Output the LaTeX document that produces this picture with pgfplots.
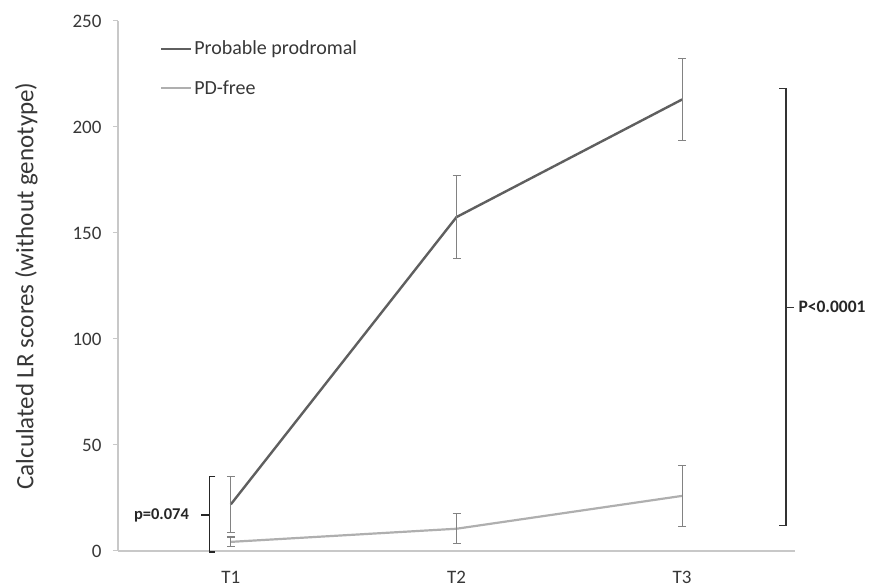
\documentclass[border=0pt]{standalone}
\usepackage{pgfplots}
\pgfplotsset{compat=1.18}
\usepackage{fontspec}
\setmainfont{Carlito}

\definecolor{prodcol}{RGB}{95,95,95}
\definecolor{freecol}{RGB}{175,175,175}
\definecolor{axcol}{RGB}{200,200,200}
\definecolor{errcol}{RGB}{130,130,130}
\definecolor{txtcol}{RGB}{55,55,55}

\begin{document}
\begin{tikzpicture}[x=1pt,y=1pt]
\begin{axis}[
  at={(0pt,0pt)}, anchor=south west,
  scale only axis, width=677pt, height=530pt,
  xmin=0.5, xmax=3.5, ymin=0, ymax=250,
  xtick={1,2,3}, xticklabels={T1,T2,T3},
  ytick={0,50,100,150,200,250},
  axis x line=bottom, axis y line=left,
  axis line style={axcol, line width=1.2pt, -},
  x axis line style={-}, y axis line style={-},
  major tick length=5pt,
  xtick style={draw=none},
  ytick style={axcol, line width=1pt},
  tick align=outside,
  /pgf/number format/assume math mode=true,
  ticklabel style={font=\fontsize{19}{21}\selectfont, text=txtcol},
  yticklabel style={xshift=-8pt},
  xticklabel style={yshift=-12pt},
  ylabel={Calculated LR scores (without genotype)},
  ylabel style={font=\fontsize{25}{27}\selectfont, text=txtcol, yshift=28pt},
  legend style={at={(0.058,0.97)}, anchor=north west, draw=none, fill=none,
    font=\fontsize{20}{22}\selectfont, text=txtcol, row sep=20pt},
  legend cell align=left,
  legend image code/.code={\draw[#1, line width=1.8pt] (0pt,0pt) -- (30pt,0pt);},
  clip=false,
]
\addplot[prodcol, line width=2.4pt,
  error bars/.cd, y dir=both, y explicit,
  error bar style={errcol, line width=1.1pt},
  error mark options={rotate=90, mark size=4pt, errcol, line width=1.1pt}]
  coordinates {
  (1,22) +- (0,13.3)
  (2,157.5) +- (0,19.5)
  (3,213) +- (0,19.3)
};
\addlegendentry{Probable prodromal}
\addplot[freecol, line width=2.2pt,
  error bars/.cd, y dir=both, y explicit,
  error bar style={errcol, line width=1.1pt},
  error mark options={rotate=90, mark size=4pt, errcol, line width=1.1pt}]
  coordinates {
  (1,4.3) +- (0,2.3)
  (2,10.5) +- (0,7)
  (3,26) +- (0,14.3)
};
\addlegendentry{PD-free}

% significance bracket at T1
\draw[black!85, line width=1.3pt]
  (axis cs:0.932,35) -- (axis cs:0.905,35) -- (axis cs:0.905,-0.5) -- (axis cs:0.932,-0.5);
\draw[black!85, line width=1.3pt]
  (axis cs:0.905,17) -- (axis cs:0.868,17);
\node[anchor=east, font=\bfseries\fontsize{16.5}{18}\selectfont, text=black!85]
  at (axis cs:0.83,17) {p=0.074};

% significance bracket between groups at T3
\draw[black!80, line width=1.3pt]
  (axis cs:3.43,218) -- (axis cs:3.46,218) -- (axis cs:3.46,12) -- (axis cs:3.43,12);
\draw[black!80, line width=1.3pt]
  (axis cs:3.46,115) -- (axis cs:3.495,115);
\node[anchor=west, font=\bfseries\fontsize{17.5}{19}\selectfont, text=black!85]
  at (axis cs:3.5,115) {P<0.0001};
\end{axis}
\pgfresetboundingbox
\path (-118pt,-37pt) rectangle (757pt,551pt);
\end{tikzpicture}
\end{document}
